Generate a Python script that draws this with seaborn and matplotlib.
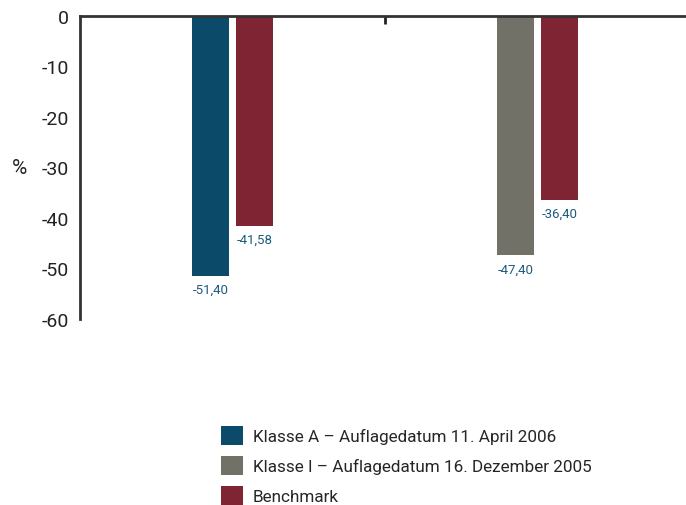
import matplotlib
matplotlib.use("Agg")
import matplotlib.pyplot as plt
from matplotlib.patches import Patch
import seaborn as sns
import pandas as pd

# Data
groups = ["Klasse A", "Klasse I"]
series_first = ["Klasse A – Auflagedatum 11. April 2006", "Klasse I – Auflagedatum 16. Dezember 2005"]
fund_values = [-51.40, -47.40]
benchmark_values = [-41.58, -36.40]
legend_labels = ["Klasse A – Auflagedatum 11. April 2006",
                 "Klasse I – Auflagedatum 16. Dezember 2005",
                 "Benchmark"]
yticks = [0, -10, -20, -30, -40, -50, -60]

colors = {
    legend_labels[0]: "#0b4a68",
    legend_labels[1]: "#717168",
    legend_labels[2]: "#7f2433",
}
label_color = "#1d5c7c"

rows = []
for g, s, fv, bv in zip(groups, series_first, fund_values, benchmark_values):
    rows.append({"group": g, "slot": "fund", "series": s, "value": fv})
    rows.append({"group": g, "slot": "bench", "series": "Benchmark", "value": bv})
df = pd.DataFrame(rows)

sns.set_theme(style="white")
plt.rcParams["font.family"] = ["Roboto", "DejaVu Sans"]

fig = plt.figure(figsize=(6.86, 5.06), dpi=100)
ax = fig.add_axes([80 / 686, 1 - 320 / 506, 610 / 686, (320 - 17) / 506])

sns.barplot(data=df, x="group", y="value", hue="slot", hue_order=["fund", "bench"],
            order=groups, width=0.29, gap=0.16, ax=ax, legend=False, errorbar=None)

# colour each bar by its series and write its value underneath
for patch in ax.patches:
    h = patch.get_height()
    xc = patch.get_x() + patch.get_width() / 2
    match = df.loc[(df["value"] - h).abs() < 1e-9].iloc[0]
    patch.set_facecolor(colors[match["series"]])
    patch.set_edgecolor("none")
    ax.annotate(f"{h:.2f}".replace(".", ","), xy=(xc, h), xytext=(0, -5),
                textcoords="offset points", ha="center", va="top",
                fontsize=9.5, color=label_color)

ax.set_xlim(-0.5, 1.5)
ax.set_ylim(-60, 0)
ax.set_yticks(yticks)
ax.set_yticklabels([str(t) for t in yticks], fontsize=14, color="#222222")
ax.tick_params(axis="y", length=0, pad=8)

ax.xaxis.tick_top()
ax.set_xticks([0.5])
ax.set_xticklabels([])
ax.tick_params(axis="x", direction="in", length=6, width=2, color="#222222")
ax.set_xlabel("")
ax.set_ylabel("%", rotation=0, fontsize=15, color="#222222", labelpad=16, va="center")

for side in ["right", "bottom"]:
    ax.spines[side].set_visible(False)
for side in ["left", "top"]:
    ax.spines[side].set_color("#333333")
    ax.spines[side].set_linewidth(2)
    ax.spines[side].set_zorder(5)

handles = [Patch(facecolor=colors[l], edgecolor="none", label=l) for l in legend_labels]
fig.legend(handles=handles, loc="upper left", bbox_to_anchor=(209 / 686, 1 - 415 / 506),
           frameon=False, fontsize=12.3, handlelength=1.3, handleheight=1.3,
           handletextpad=0.55, labelspacing=0.68, borderpad=0.2)

fig.savefig("out.png", dpi=100)
